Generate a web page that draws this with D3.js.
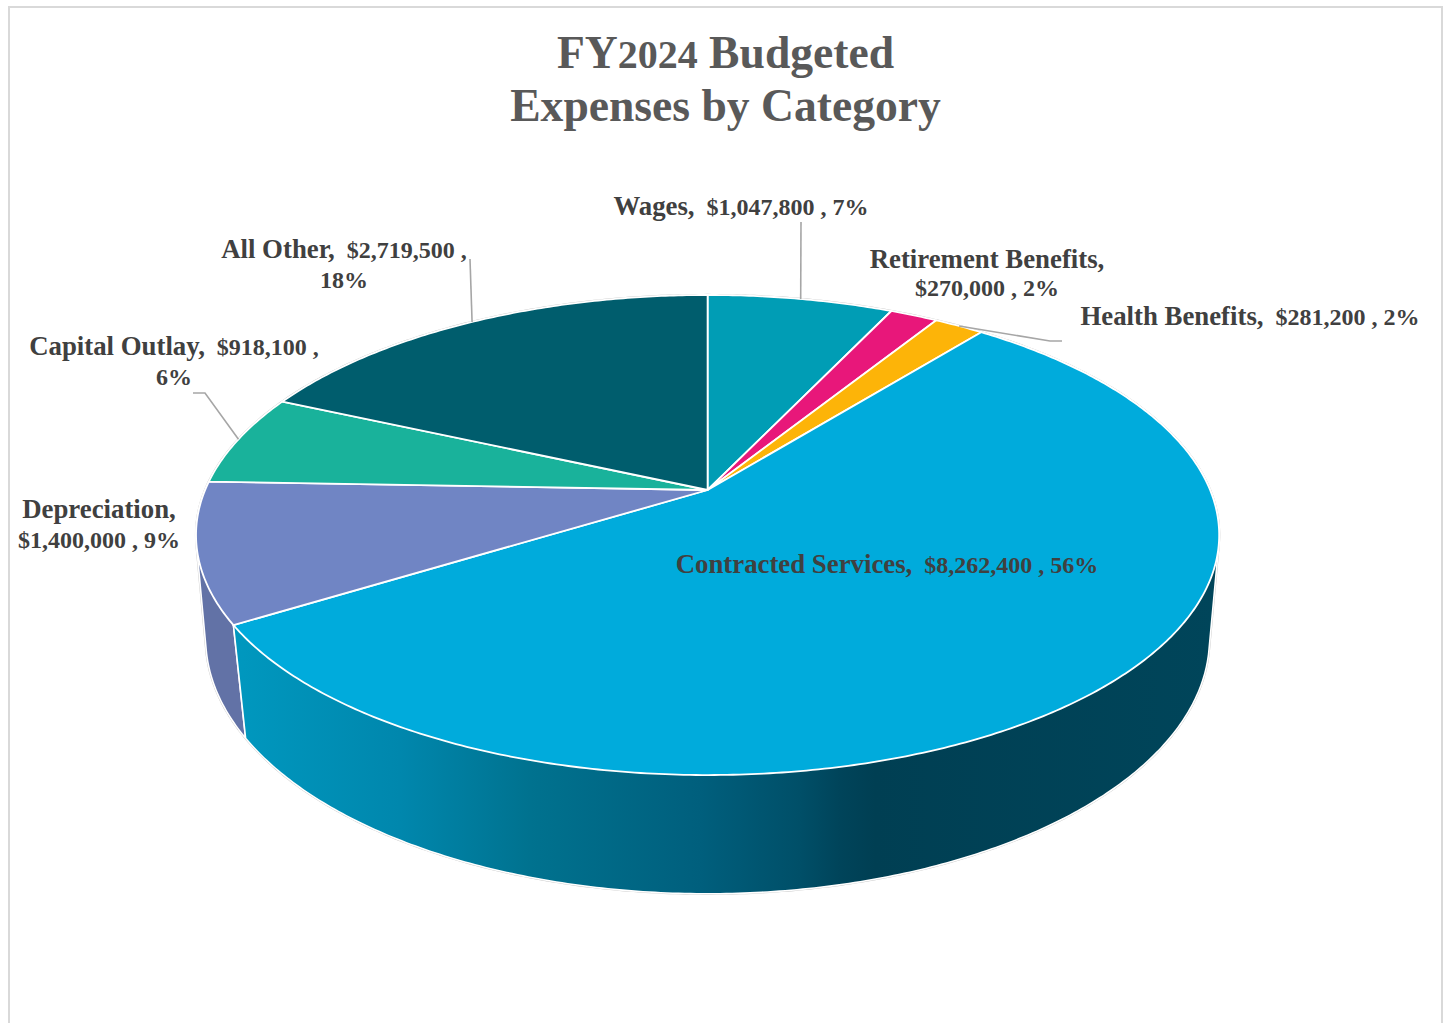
<!DOCTYPE html>
<html>
<head>
<meta charset="utf-8">
<title>FY2024 Budgeted Expenses by Category</title>
<script src="https://cdn.jsdelivr.net/npm/d3@7"></script>
<style>
  html, body { margin: 0; padding: 0; background: #fff; overflow: hidden; }
  svg { display: block; }
  text { font-family: "Liberation Serif", "DejaVu Serif", serif; font-weight: 700; }
</style>
</head>
<body>
<svg id="chart" width="1448" height="1023"></svg>
<script>
// Budget figures, clockwise from twelve o'clock
const categories = ["Wages", "Retirement Benefits", "Health Benefits", "Contracted Services", "Depreciation", "Capital Outlay", "All Other"];
const amounts = [1047800, 270000, 281200, 8262400, 1400000, 918100, 2719500];
const percentLabels = ["7%", "2%", "2%", "56%", "9%", "6%", "18%"];
const sliceColors = ["#009DB5", "#E8177A", "#FDB408", "#00ABDC", "#7085C4", "#19B29B", "#005D6D"];

const titleLines = ["FY2024 Budgeted", "Expenses by Category"];

// Perspective disc: x = a*u/(1+k*v), y = y0 - b*v/(1+k*v) for a unit-circle point (u, v)
const cx = 707.6;
const topDisc = { a: 502.5, b: 231.6, y0: 490, k: 0.1875 };
const baseDisc = { a: 494.6, b: 248, y0: 595, k: 0.17 };

function project(disc, angle) {
  const u = Math.sin(angle), v = Math.cos(angle), w = 1 + disc.k * v;
  return [cx + disc.a * u / w, disc.y0 - disc.b * v / w];
}

function rim(disc, start, end) {
  const steps = Math.max(2, Math.ceil((end - start) / 0.01));
  return d3.range(steps + 1).map(i => project(disc, start + (end - start) * i / steps));
}

const pie = d3.pie().sort(null).value(d => d.amount);
const slices = pie(categories.map((name, i) => ({
  name, amount: amounts[i], percent: percentLabels[i], color: sliceColors[i]
})));
const sliceByName = new Map(slices.map(s => [s.data.name, s]));
const money = d3.format("$,");
const line = d3.line();
const closedPath = pts => line(pts) + "Z";

const svg = d3.select("#chart");
const defs = svg.append("defs");

// Chart frame, running past the foot of the page
svg.append("rect")
  .attr("x", 9).attr("y", 7).attr("width", 1433).attr("height", 1040)
  .attr("fill", "#fff").attr("stroke", "#d9d9d9").attr("stroke-width", 2);

// Horizontal shading on the wall of the large slice
const wallStops = [
  [234, "#0098BF"], [400, "#0087AD"], [530, "#00728F"], [700, "#005F7D"],
  [800, "#004F68"], [840, "#00445A"], [875, "#003F53"], [1216, "#00455A"]
];
const wallX = d3.scaleLinear().domain([234, 1216]).range([0, 100]);
defs.append("linearGradient")
  .attr("id", "wallShade")
  .attr("gradientUnits", "userSpaceOnUse")
  .attr("x1", 234).attr("x2", 1216).attr("y1", 0).attr("y2", 0)
  .selectAll("stop").data(wallStops).join("stop")
  .attr("offset", d => wallX(d[0]) + "%")
  .attr("stop-color", d => d[1]);

// Thin grey fringe around the whole solid
const solidOutline = d3.polygonHull(
  rim(topDisc, 0, 2 * Math.PI).concat(rim(baseDisc, 0, 2 * Math.PI))
);
svg.append("path")
  .attr("d", closedPath(solidOutline))
  .attr("fill", "#fff").attr("stroke", "#c4c4c4").attr("stroke-width", 2.2);

// Visible side walls
const walls = [
  { name: "Depreciation", fill: "#6272A6" },
  { name: "Contracted Services", fill: "url(#wallShade)" }
];
svg.append("g").selectAll("path").data(walls).join("path")
  .attr("d", w => {
    const s = sliceByName.get(w.name);
    return closedPath(d3.polygonHull(
      rim(topDisc, s.startAngle, s.endAngle).concat(rim(baseDisc, s.startAngle, s.endAngle))
    ));
  })
  .attr("fill", d => d.fill)
  .attr("stroke", "#fff").attr("stroke-width", 1.6).attr("stroke-linejoin", "round");

// Top face
svg.append("g").selectAll("path").data(slices).join("path")
  .attr("d", s => closedPath([[cx, topDisc.y0]].concat(rim(topDisc, s.startAngle, s.endAngle))))
  .attr("fill", s => s.data.color)
  .attr("stroke", "#fff").attr("stroke-width", 1.8).attr("stroke-linejoin", "round");

// Leader lines start at the middle of each slice's outer edge
const leaderTails = {
  "Wages": [[801, 222]],
  "Health Benefits": [[1050, 341], [1062, 341]],
  "Capital Outlay": [[205, 393], [193, 393]],
  "All Other": [[470, 259]]
};
svg.append("g").selectAll("path").data(Object.keys(leaderTails)).join("path")
  .attr("d", name => {
    const s = sliceByName.get(name);
    return line([project(topDisc, (s.startAngle + s.endAngle) / 2)].concat(leaderTails[name]));
  })
  .attr("fill", "none").attr("stroke", "#a6a6a6").attr("stroke-width", 1.6);

// Label wording: each line is a pair of runs, words first and figures second
const figures = s => money(s.data.amount) + " , " + s.data.percent;
const gap = "\u00a0\u00a0";
const oneLine = s => [[s.data.name + ",", gap + figures(s)]];
const nameThenFigures = s => [[s.data.name + ",", ""], ["", figures(s)]];
const percentWrapped = s => [[s.data.name + ",", gap + money(s.data.amount) + " ,"], ["", s.data.percent]];

const labelLayout = [
  { name: "Wages", wrap: oneLine, x: 741, y: [215] },
  { name: "Retirement Benefits", wrap: nameThenFigures, x: 987, y: [268, 296] },
  { name: "Health Benefits", wrap: oneLine, x: 1250, y: [325] },
  { name: "Contracted Services", wrap: oneLine, x: 887, y: [573] },
  { name: "Depreciation", wrap: nameThenFigures, x: 99, y: [518, 548] },
  { name: "Capital Outlay", wrap: percentWrapped, x: 174, y: [355, 385] },
  { name: "All Other", wrap: percentWrapped, x: 344, y: [258, 288] }
];
const wordSize = 26.8, figureSize = 24;
const labelGroup = svg.append("g").attr("fill", "#404040").attr("text-anchor", "middle");
labelLayout.forEach(l => {
  l.wrap(sliceByName.get(l.name)).forEach((runs, i) => {
    const t = labelGroup.append("text").attr("x", l.x).attr("y", l.y[i]);
    if (runs[0]) t.append("tspan").attr("font-size", wordSize).text(runs[0]);
    if (runs[1]) t.append("tspan").attr("font-size", figureSize).text(runs[1]);
  });
});

// Title, with the year set a little smaller than the words
const titleGroup = svg.append("g").attr("fill", "#595959").attr("text-anchor", "middle");
titleLines.forEach((text, i) => {
  const t = titleGroup.append("text").attr("x", 725.5).attr("y", 68 + i * 53);
  text.split(/(\d+)/).filter(Boolean).forEach(part => {
    t.append("tspan").attr("font-size", /\d/.test(part) ? 40 : 45.6).text(part);
  });
});
</script>
</body>
</html>
